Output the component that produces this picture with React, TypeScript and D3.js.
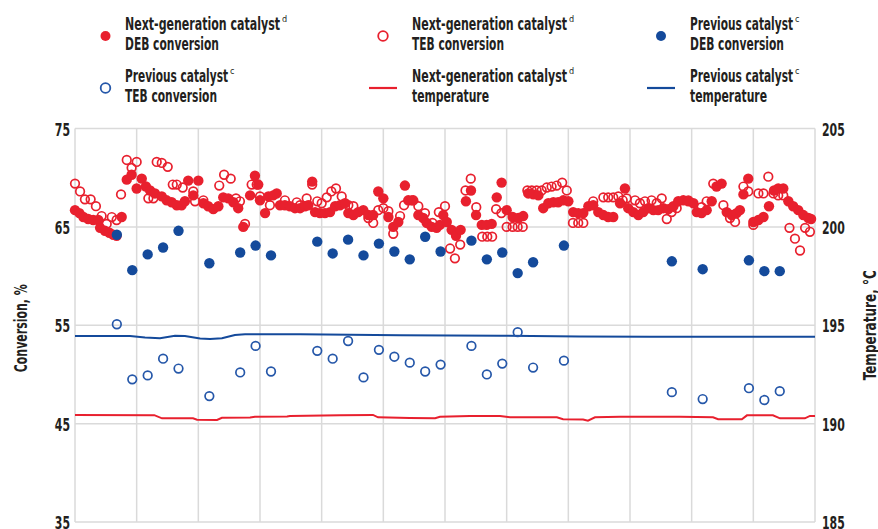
import React from "react";
import * as d3 from "d3";

// Sampling day for every previous-catalyst sample (weekly)
const prevDays = [19, 26, 33, 40, 47, 61, 75, 82, 89, 110, 117, 124, 131, 138, 145, 152, 159, 166, 180, 187, 194, 201, 208, 222, 271, 285, 306, 313, 320];
const prevDEB = [64.2, 60.6, 62.2, 62.9, 64.6, 61.3, 62.4, 63.1, 62.1, 63.5, 62.3, 63.7, 62.1, 63.3, 62.5, 61.7, 64.0, 62.5, 63.6, 61.7, 62.4, 60.3, 61.4, 63.1, 61.5, 60.7, 61.6, 60.5, 60.5];
const prevTEB = [55.1, 49.5, 49.9, 51.6, 50.6, 47.8, 50.2, 52.9, 50.3, 52.4, 51.6, 53.4, 49.7, 52.5, 51.8, 51.2, 50.3, 51.0, 52.9, 50.0, 51.1, 54.3, 50.7, 51.4, 48.2, 47.5, 48.6, 47.4, 48.3];

// Next-generation catalyst DEB conversion: [day, %]
const nextDEB: [number, number][] = [
  [0, 66.7], [2.0, 66.4], [3.8, 66.0], [6.0, 65.8], [8.3, 65.7], [10.6, 65.7], [11.4, 64.9], [13.6, 64.6], [15.6, 64.4], [17.4, 64.2],
  [18.9, 64.1], [21.2, 66.0], [23.5, 69.8], [25.7, 70.3], [28.0, 68.9], [30.3, 69.9], [32.2, 69.1], [34.1, 68.7], [36.3, 68.4], [39.4, 68.1],
  [41.6, 67.7], [43.9, 67.5], [46.2, 67.2], [48.4, 67.2], [49.9, 67.6], [51.4, 69.7], [53.7, 68.2], [56.0, 69.7], [58.3, 67.4], [60.5, 67.1],
  [62.8, 66.8], [65.1, 67.1], [67.3, 68.0], [69.6, 67.9], [71.9, 67.5], [74.1, 66.9], [76.4, 65.0], [79.5, 68.2], [81.7, 70.2], [83.2, 69.3],
  [84.0, 67.7], [86.3, 66.4], [87.8, 68.1], [90.0, 68.2], [91.6, 68.4], [93.1, 67.2], [95.3, 67.2], [97.6, 67.1], [99.9, 66.9], [102.2, 66.9],
  [104.4, 67.1], [105.9, 67.2], [107.7, 69.6], [109.0, 66.5], [111.2, 66.4], [113.5, 66.4], [115.8, 66.5], [118.1, 67.1], [120.3, 67.2], [122.6, 67.4],
  [124.1, 66.4], [126.4, 66.2], [128.6, 66.5], [130.9, 66.7], [133.2, 66.2], [135.4, 66.2], [137.7, 68.6], [140.0, 67.9], [142.3, 66.0], [144.5, 65.0],
  [146.8, 65.5], [149.8, 69.2], [151.3, 67.7], [153.6, 67.7], [155.9, 66.2], [158.1, 65.9], [159.7, 65.4], [162.0, 65.0], [164.2, 64.9], [165.7, 65.2],
  [167.2, 66.2], [168.8, 65.5], [171.0, 64.7], [173.0, 64.1], [175.1, 64.7], [177.5, 67.6], [179.8, 68.7], [182.1, 66.2], [184.7, 65.2], [186.9, 65.2],
  [189.2, 65.3], [191.5, 68.0], [193.7, 69.5], [196.0, 66.7], [198.7, 66.0], [201.3, 65.9], [203.5, 66.1], [205.8, 68.4], [208.1, 68.3], [210.4, 68.2],
  [212.6, 66.9], [214.9, 67.4], [217.2, 67.5], [219.4, 67.5], [221.7, 67.7], [224.0, 67.6], [226.2, 66.5], [228.5, 66.4], [230.8, 66.4], [233.1, 67.1],
  [235.3, 67.2], [237.6, 66.5], [239.9, 66.2], [242.1, 66.0], [244.4, 66.0], [247.5, 67.4], [249.7, 68.9], [251.2, 66.9], [253.5, 66.5], [255.8, 66.2],
  [258.0, 66.5], [260.3, 66.9], [262.6, 66.7], [264.8, 66.7], [267.1, 66.9], [269.4, 66.8], [271.7, 67.1], [273.9, 67.6], [276.2, 67.7], [278.5, 67.6],
  [280.8, 67.4], [282.3, 66.5], [284.5, 66.4], [286.8, 66.7], [289.1, 67.6], [291.3, 69.1], [293.6, 69.4], [295.9, 66.5], [298.2, 66.2], [300.4, 66.4],
  [301.9, 66.7], [303.5, 68.3], [305.7, 69.9], [308.0, 65.5], [310.3, 65.7], [312.6, 66.0], [315.1, 67.1], [317.4, 68.7], [319.3, 68.9], [321.6, 68.9],
  [323.9, 67.6], [326.1, 67.1], [328.4, 66.7], [330.7, 66.2], [333.0, 65.9], [334.2, 65.8],
];

// Next-generation catalyst TEB conversion: [day, %]
const nextTEB: [number, number][] = [
  [0, 69.4], [2.3, 68.6], [4.5, 67.8], [7.1, 67.8], [9.5, 67.1], [12.1, 66.1], [14.4, 65.3], [16.7, 66.0], [18.9, 65.7], [20.9, 68.3],
  [23.5, 71.8], [25.7, 71.0], [28.0, 71.6], [33.3, 67.9], [35.6, 67.9], [37.1, 71.6], [39.4, 71.5], [42.1, 71.1], [44.4, 69.3], [46.2, 69.3],
  [48.9, 69.0], [53.7, 68.6], [54.5, 67.6], [58.3, 67.7], [65.5, 69.2], [67.7, 70.3], [70.7, 69.9], [73.1, 67.9], [74.9, 67.6], [77.2, 65.3],
  [80.2, 69.3], [82.5, 69.3], [84.0, 68.1], [88.5, 67.2], [95.3, 67.7], [100.7, 67.5], [102.2, 67.2], [105.2, 67.9], [107.7, 69.3], [110.0, 67.6],
  [112.0, 67.4], [114.3, 68.0], [116.4, 68.6], [118.5, 68.9], [121.1, 68.1], [124.1, 67.2], [126.4, 67.1], [133.2, 65.9], [135.4, 65.4], [137.7, 66.7],
  [140.0, 66.9], [142.3, 66.6], [144.5, 64.3], [147.6, 66.1], [149.4, 67.2], [152.9, 67.7], [155.9, 67.1], [158.9, 66.4], [162.3, 65.4], [165.2, 66.5],
  [168.0, 67.1], [170.3, 62.8], [172.5, 61.8], [174.9, 63.2], [177.3, 68.7], [179.7, 69.9], [182.2, 67.0], [184.9, 64.0], [187.2, 64.0], [189.4, 64.0],
  [191.2, 66.8], [193.6, 66.4], [196.0, 65.0], [198.7, 65.0], [201.0, 65.0], [203.3, 65.0], [205.4, 68.7], [207.4, 68.7], [209.6, 68.7], [211.9, 68.7],
  [214.2, 69.0], [216.4, 69.1], [218.7, 69.2], [221.2, 69.5], [223.3, 68.7], [226.1, 65.4], [228.5, 65.4], [230.8, 65.4], [235.3, 67.6], [239.9, 68.0],
  [242.1, 68.0], [244.4, 68.0], [246.7, 68.1], [248.7, 67.7], [250.5, 67.9], [254.3, 67.7], [256.5, 67.4], [258.8, 67.6], [261.8, 67.7], [264.1, 67.4],
  [266.4, 67.9], [268.7, 65.8], [270.9, 66.5], [273.2, 66.9], [278.5, 67.7], [284.5, 67.0], [286.8, 67.6], [289.8, 69.4], [294.4, 67.2], [297.4, 65.9],
  [299.7, 65.5], [303.5, 69.1], [305.7, 68.6], [308.0, 65.2], [310.3, 68.4], [312.6, 68.4], [314.8, 70.1], [317.1, 68.4], [319.3, 68.2], [321.6, 68.2],
  [324.4, 64.9], [326.9, 63.8], [329.2, 62.6], [331.5, 64.9], [333.7, 64.5],
];

// Reactor temperature, °C: [day, value]
const nextTemp: [number, number][] = [
  [0, 190.44], [36, 190.43], [39.5, 190.27], [53.6, 190.27], [55.4, 190.2], [64.5, 190.19], [66.7, 190.3], [79.5, 190.31],
  [81.7, 190.35], [96.3, 190.36], [97.6, 190.39], [120.3, 190.43], [135.3, 190.44], [137.6, 190.32], [152, 190.29], [163.5, 190.27],
  [165.7, 190.35], [179.3, 190.39], [193, 190.39], [197.5, 190.33], [218.8, 190.32], [221.6, 190.22], [230.7, 190.21], [232.9, 190.15],
  [236.1, 190.32], [247.5, 190.35], [274.7, 190.35], [289.7, 190.32], [292, 190.22], [302.8, 190.22], [305.1, 190.42], [316.9, 190.42],
  [320.1, 190.27], [331.4, 190.27], [333.7, 190.39], [336, 190.39],
];
const prevTemp: [number, number][] = [
  [0, 194.45], [25, 194.45], [31.8, 194.38], [38.6, 194.34], [45.4, 194.47], [49.9, 194.45], [56.8, 194.33], [61.3, 194.3],
  [66.7, 194.34], [72.6, 194.5], [77.2, 194.54], [102.2, 194.54], [147.6, 194.49], [193, 194.47], [229, 194.43], [261, 194.42],
  [283.8, 194.41], [336, 194.42],
];

const leftTicks = [35, 45, 55, 65, 75];
const rightTicks = [185, 190, 195, 200, 205];
const dayTicks = d3.range(0, 337, 28);

const leftTitle = "Conversion, %";
const rightTitle = "Temperature, °C";

const RED = "#e8202e";
const BLUE = "#144a9b";
const BLUE_OPEN = "#2557a9";
const GRID = "#dadada";
const INK = "#231f20";
const FONT = "'Liberation Sans Narrow', 'DejaVu Sans Condensed', 'Roboto Condensed', Roboto, sans-serif";

type Legend = {
  line1: string;
  sup: string;
  line2: string;
  mark: "dot" | "ring" | "line";
  color: string;
};

const legendItems: Legend[] = [
  { line1: "Next-generation catalyst", sup: "d", line2: "DEB conversion", mark: "dot", color: RED },
  { line1: "Next-generation catalyst", sup: "d", line2: "TEB conversion", mark: "ring", color: RED },
  { line1: "Previous catalyst", sup: "c", line2: "DEB conversion", mark: "dot", color: BLUE },
  { line1: "Previous catalyst", sup: "c", line2: "TEB conversion", mark: "ring", color: BLUE_OPEN },
  { line1: "Next-generation catalyst", sup: "d", line2: "temperature", mark: "line", color: RED },
  { line1: "Previous catalyst", sup: "c", line2: "temperature", mark: "line", color: BLUE },
];

// Rendered widths of the condensed legend/title strings
const textWidths: Record<string, number> = {
  "Next-generation catalyst": 155,
  "Previous catalyst": 103,
  "DEB conversion": 94,
  "TEB conversion": 92,
  temperature: 77,
  [leftTitle]: 88,
  [rightTitle]: 110,
};
// Condensed digit width for tick labels
const DIGIT_W = 7.6;

const W = 878;
const H = 529;
const plot = { left: 75, right: 815, top: 128.5, bottom: 522 };

export default function App() {
  const x = d3.scaleLinear().domain([0, 336]).range([plot.left, plot.right]);
  const yL = d3.scaleLinear().domain([35, 75]).range([plot.bottom, plot.top]);
  const yR = d3.scaleLinear().domain([185, 205]).range([plot.bottom, plot.top]);

  const tempLine = d3
    .line<[number, number]>()
    .x((d) => x(d[0]))
    .y((d) => yR(d[1]));

  const legendCols = [
    { text: 125, mark: 105.5 },
    { text: 412, mark: 383 },
    { text: 690, mark: 661 },
  ];
  const legendRows = [
    { base1: 30, base2: 50, mark: 36 },
    { base1: 81.5, base2: 101.5, mark: 88 },
  ];

  return (
    <svg
      width={W}
      height={H}
      viewBox={`0 0 ${W} ${H}`}
      style={{ position: "absolute", left: 0, top: 0, background: "#fff" }}
      fontFamily={FONT}
    >
      <rect x={0} y={0} width={W} height={H} fill="#fff" />

      {/* legend */}
      {legendItems.map((it, i) => {
        const col = legendCols[i % 3];
        const row = legendRows[Math.floor(i / 3)];
        const w1 = textWidths[it.line1];
        return (
          <g key={i} fill={INK} fontWeight={700} fontSize={18}>
            {it.mark === "dot" && <circle cx={col.mark} cy={row.mark} r={5} fill={it.color} />}
            {it.mark === "ring" && (
              <circle cx={col.mark} cy={row.mark} r={4.8} fill="none" stroke={it.color} strokeWidth={1.8} />
            )}
            {it.mark === "line" && (
              <line x1={col.mark - 14} x2={col.mark + 14} y1={row.mark} y2={row.mark} stroke={it.color} strokeWidth={2.2} />
            )}
            <text x={col.text} y={row.base1} textLength={w1} lengthAdjust="spacingAndGlyphs">
              {it.line1}
            </text>
            <text x={col.text + w1 + 2} y={row.base1 - 8} fontSize={9} fontWeight={400}>
              {it.sup}
            </text>
            <text x={col.text} y={row.base2} textLength={textWidths[it.line2]} lengthAdjust="spacingAndGlyphs">
              {it.line2}
            </text>
          </g>
        );
      })}

      {/* grid and frame */}
      <g stroke={GRID} strokeWidth={1.5} fill="none">
        {leftTicks.map((t) => (
          <line key={`h${t}`} x1={plot.left} x2={plot.right} y1={yL(t)} y2={yL(t)} />
        ))}
        {dayTicks.map((d) => (
          <line key={`v${d}`} x1={x(d)} x2={x(d)} y1={plot.top} y2={plot.bottom} />
        ))}
      </g>

      {/* axis tick labels */}
      <g fill={INK} fontSize={17} fontWeight={700}>
        {leftTicks.map((t) => (
          <text
            key={`l${t}`}
            x={plot.left - 5}
            y={yL(t) + 2}
            textAnchor="end"
            dominantBaseline="middle"
            textLength={String(t).length * DIGIT_W}
            lengthAdjust="spacingAndGlyphs"
          >
            {t}
          </text>
        ))}
        {rightTicks.map((t) => (
          <text
            key={`r${t}`}
            x={plot.right + 7}
            y={yR(t) + 2}
            dominantBaseline="middle"
            textLength={String(t).length * DIGIT_W}
            lengthAdjust="spacingAndGlyphs"
          >
            {t}
          </text>
        ))}
      </g>

      {/* axis titles */}
      <g fill={INK} fontSize={17} fontWeight={700}>
        <text
          transform={`translate(27,${(plot.top + plot.bottom) / 2 + 3}) rotate(-90)`}
          textAnchor="middle"
          textLength={textWidths[leftTitle]}
          lengthAdjust="spacingAndGlyphs"
        >
          {leftTitle}
        </text>
        <text
          transform={`translate(875.5,${(plot.top + plot.bottom) / 2}) rotate(-90)`}
          textAnchor="middle"
          textLength={textWidths[rightTitle]}
          lengthAdjust="spacingAndGlyphs"
        >
          {rightTitle}
        </text>
      </g>

      {/* temperature lines */}
      <path d={tempLine(prevTemp) ?? ""} fill="none" stroke={BLUE} strokeWidth={2} />
      <path d={tempLine(nextTemp) ?? ""} fill="none" stroke={RED} strokeWidth={2} />

      {/* next-generation catalyst conversions */}
      <g fill="none" stroke={RED} strokeWidth={1.7}>
        {nextTEB.map((d, i) => (
          <circle key={`nt${i}`} cx={x(d[0])} cy={yL(d[1])} r={4.3} />
        ))}
      </g>
      <g fill={RED}>
        {nextDEB.map((d, i) => (
          <circle key={`nd${i}`} cx={x(d[0])} cy={yL(d[1])} r={5.2} />
        ))}
      </g>

      {/* previous catalyst conversions */}
      <g fill={BLUE}>
        {prevDays.map((d, i) => (
          <circle key={`pd${i}`} cx={x(d)} cy={yL(prevDEB[i])} r={5.2} />
        ))}
      </g>
      <g fill="none" stroke={BLUE_OPEN} strokeWidth={1.7}>
        {prevDays.map((d, i) => (
          <circle key={`pt${i}`} cx={x(d)} cy={yL(prevTEB[i])} r={4.3} />
        ))}
      </g>
    </svg>
  );
}
